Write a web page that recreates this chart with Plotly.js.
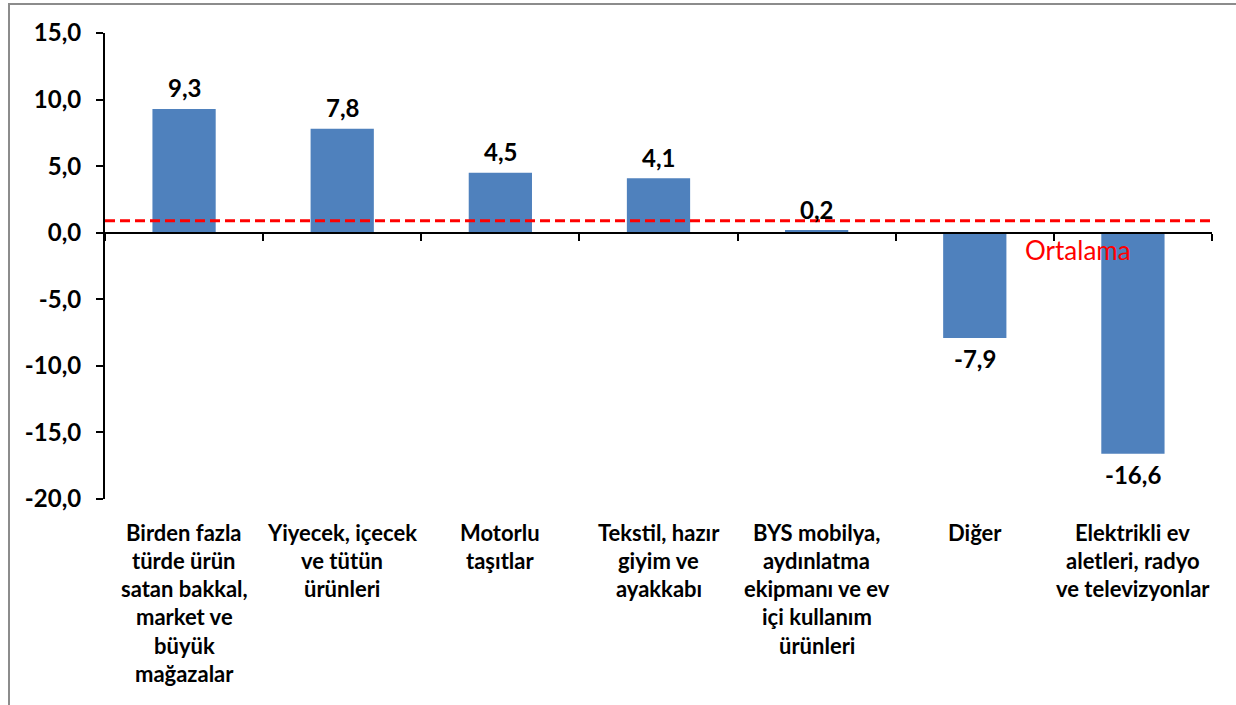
<!DOCTYPE html>
<html>
<head>
<meta charset="utf-8">
<script src="https://cdn.plot.ly/plotly-3.0.1.min.js"></script>
<style>
  html, body { margin: 0; padding: 0; overflow: hidden; background: #fff; }
  #chart { width: 1236px; height: 705px; position: absolute; left: 0; top: 0; }
  #frame { position: absolute; left: 8px; top: 3px; width: 1400px; height: 900px;
           border: 2px solid #8c8c8c; pointer-events: none; }
</style>
</head>
<body>
<div id="chart"></div>
<div id="frame"></div>
<script>
const categories = [
  'Birden fazla<br>türde ürün<br>satan bakkal,<br>market ve<br>büyük<br>mağazalar',
  'Yiyecek, içecek<br>ve tütün<br>ürünleri',
  'Motorlu<br>taşıtlar',
  'Tekstil, hazır<br>giyim ve<br>ayakkabı',
  'BYS mobilya,<br>aydınlatma<br>ekipmanı ve ev<br>içi kullanım<br>ürünleri',
  'Diğer',
  'Elektrikli ev<br>aletleri, radyo<br>ve televizyonlar'
];
const values = [9.3, 7.8, 4.5, 4.1, 0.2, -7.9, -16.6];
const average = 0.9;
const averageLabel = 'Ortalama';
const yTickVals = [-20, -15, -10, -5, 0, 5, 10, 15];
const yTickText = ['-20,0', '-15,0', '-10,0', '-5,0', '0,0', '5,0', '10,0', '15,0'];

const yRange = [-20, 15];
const FONT = 'Lato, "Open Sans", sans-serif';
const fmt = v => v.toFixed(1).replace('.', ',');

const annotations = [];
categories.forEach((c, i) => {
  c.split('<br>').forEach((line, j) => {
    annotations.push({
      x: c, xref: 'x', y: 0, yref: 'paper',
      yanchor: 'middle', xanchor: 'center',
      yshift: -33 - j * 28.3,
      text: line, showarrow: false,
      font: { family: FONT, size: 22, color: '#000', weight: 'bold' }
    });
  });
});
values.forEach((v, i) => {
  annotations.push({
    x: categories[i], xref: 'x', y: v, yref: 'y',
    yanchor: 'middle', xanchor: 'center',
    yshift: v >= 0 ? 21 : -21,
    text: fmt(v), showarrow: false,
    font: { family: FONT, size: 24, color: '#000', weight: 'bold' }
  });
});
annotations.push({
  x: 0.879, xref: 'paper', xanchor: 'center', y: average, yref: 'y', yanchor: 'middle', yshift: -29,
  text: averageLabel, showarrow: false,
  font: { family: FONT, size: 26, color: '#ff0000' }
});

const trace = {
  type: 'bar',
  x: categories,
  y: values,
  marker: { color: '#4f81bd' },
  hoverinfo: 'skip'
};

const layout = {
  width: 1236, height: 705,
  margin: { l: 105, r: 24, t: 33, b: 206 },
  paper_bgcolor: '#fff', plot_bgcolor: 'rgba(0,0,0,0)',
  showlegend: false,
  bargap: 0.6,
  xaxis: {
    type: 'category',
    anchor: 'free',
    position: (0 - yRange[0]) / (yRange[1] - yRange[0]),
    showline: true, linecolor: '#000', linewidth: 2,
    ticks: 'outside', tickson: 'boundaries', ticklen: 7, tickwidth: 2, tickcolor: '#000',
    showticklabels: false, showgrid: false, zeroline: false
  },
  yaxis: {
    range: yRange,
    tickvals: yTickVals, ticktext: yTickText,
    showline: true, linecolor: '#000', linewidth: 2,
    ticks: 'outside', ticklen: 7, tickwidth: 2, tickcolor: '#000',
    ticklabelstandoff: 10,
    tickfont: { family: FONT, size: 24, color: '#000', weight: 'bold' },
    showgrid: false, zeroline: false
  },
  shapes: [{
    type: 'line', xref: 'paper', x0: 0, x1: 1, yref: 'y', y0: average, y1: average,
    line: { color: '#ff0000', width: 3, dash: '10px,5px' }, layer: 'above'
  }],
  annotations: annotations
};

Plotly.newPlot('chart', [trace], layout, { displayModeBar: false, staticPlot: true });
</script>
</body>
</html>
